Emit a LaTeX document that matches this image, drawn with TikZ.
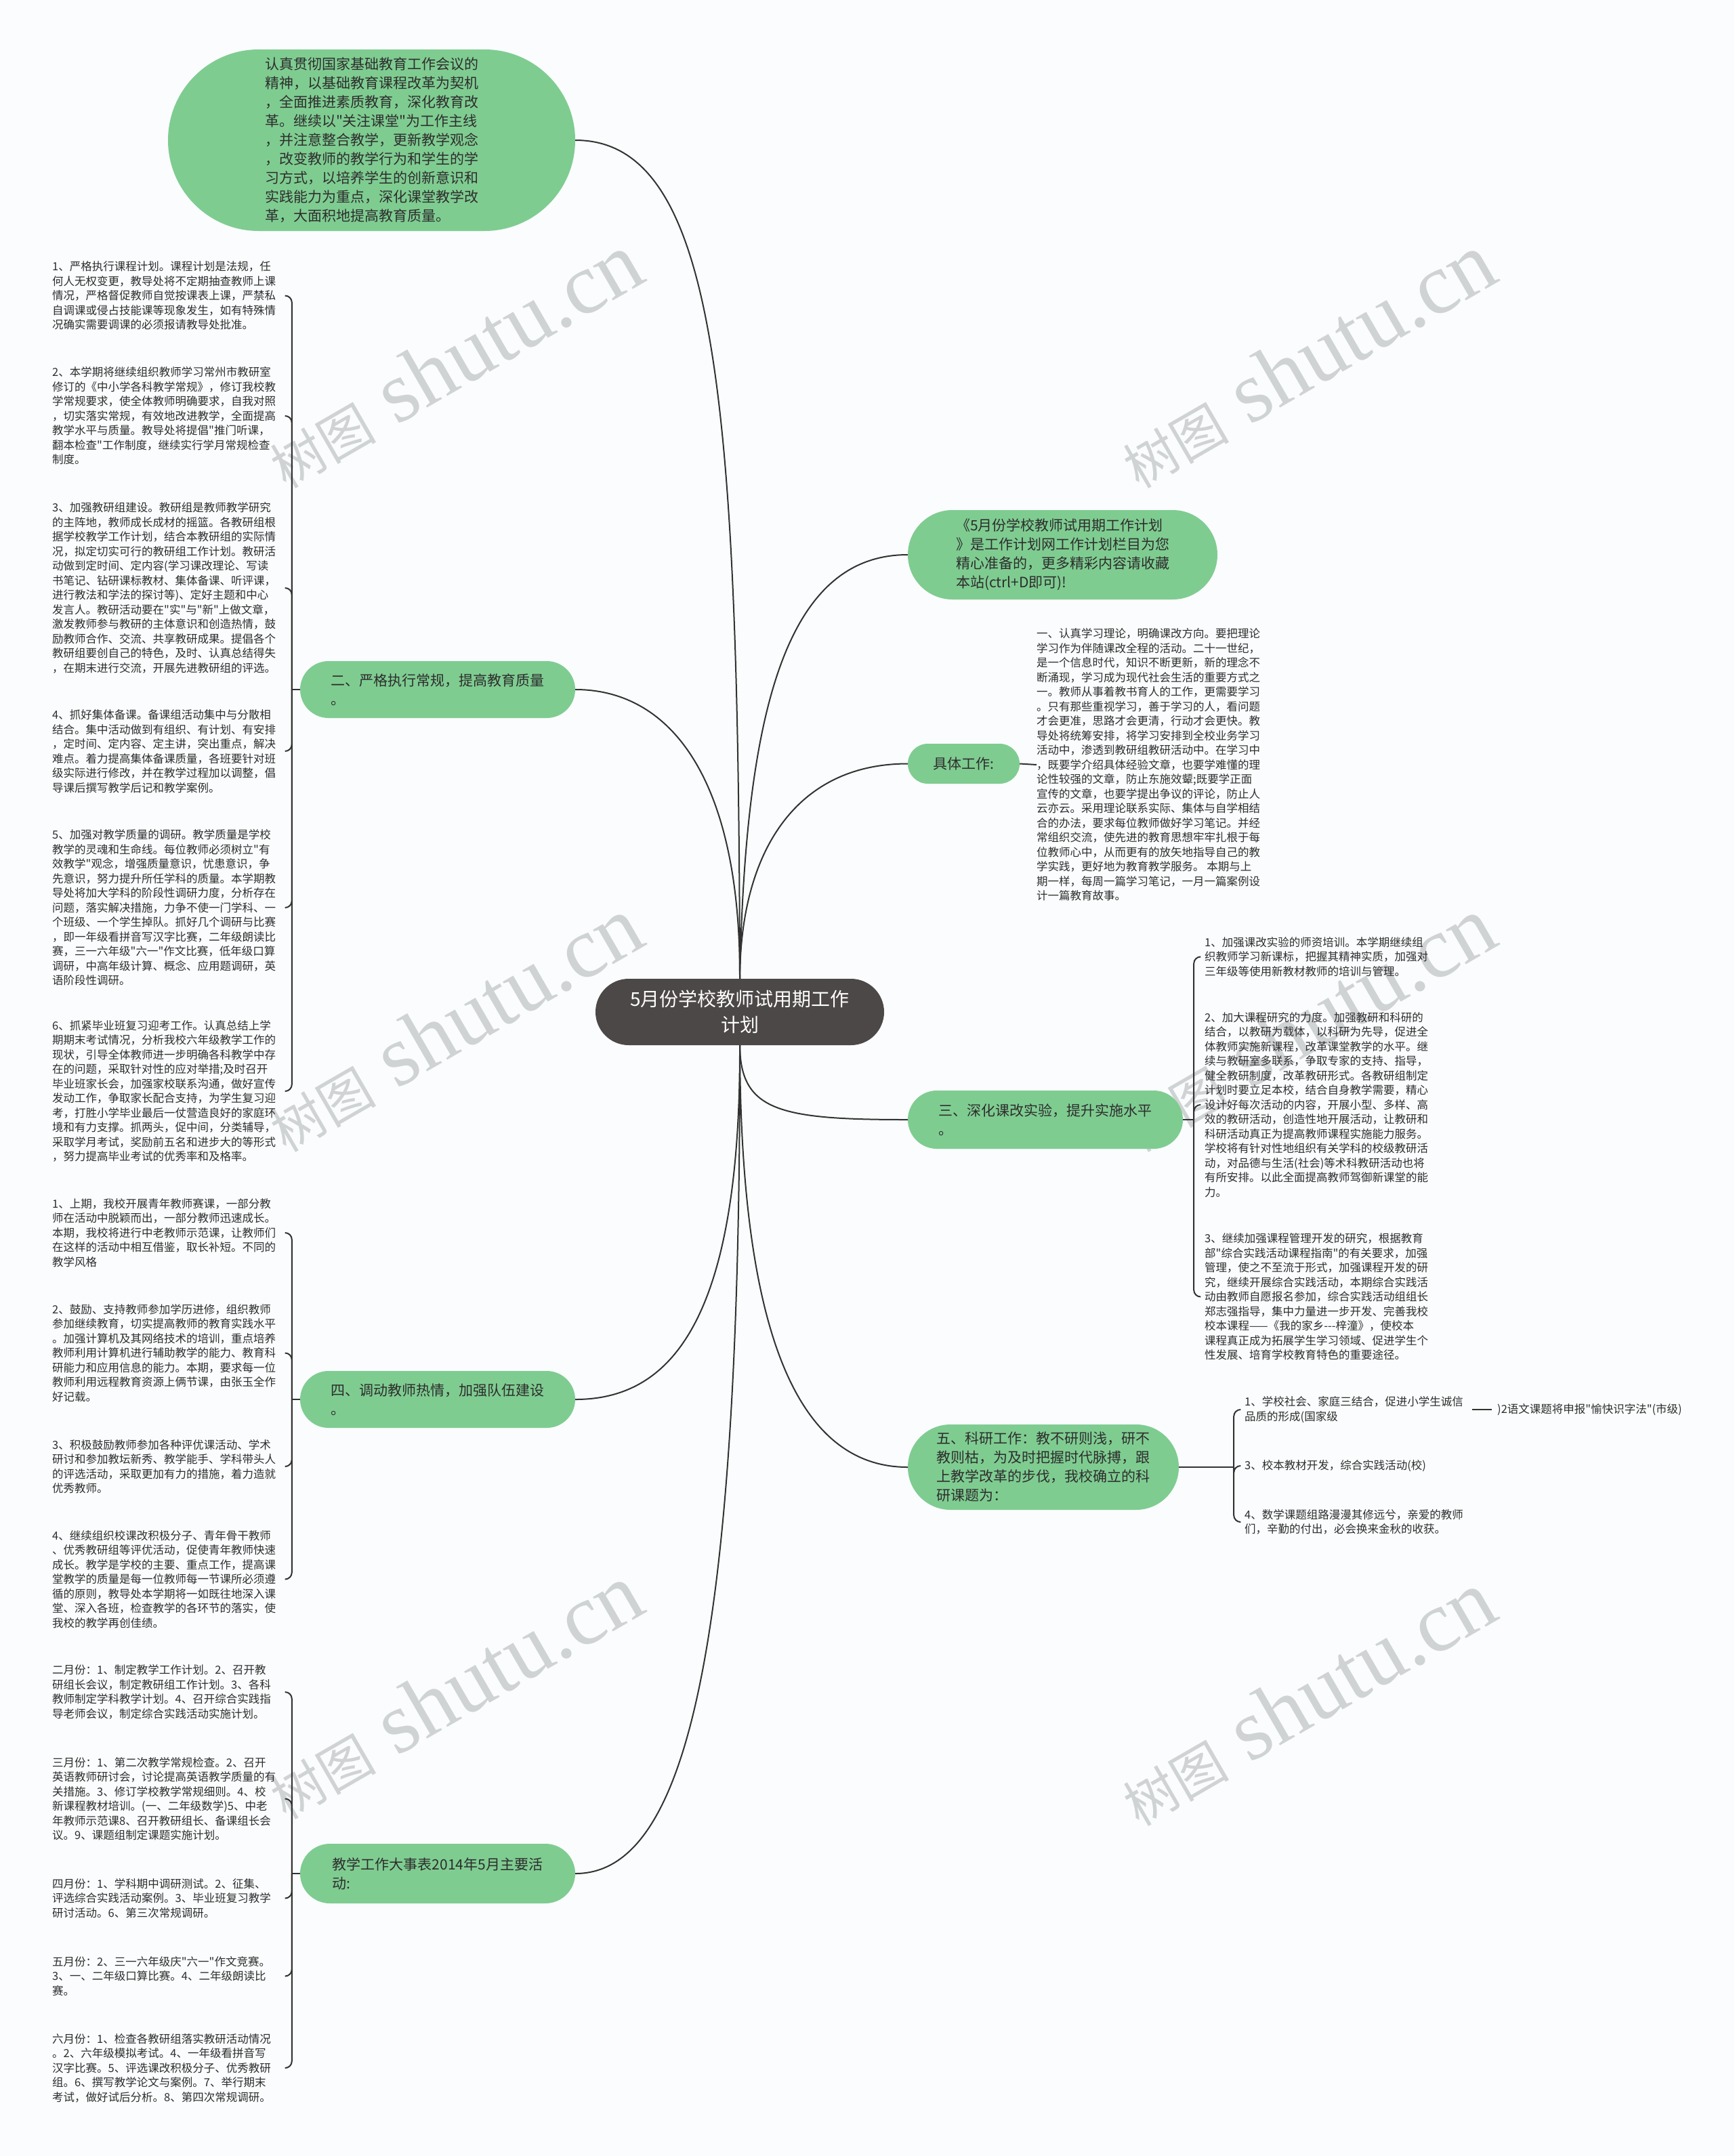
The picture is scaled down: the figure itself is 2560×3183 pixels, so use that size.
\documentclass[tikz,border=0pt]{standalone}
\usepackage{fontspec}
\setmainfont{Noto Sans CJK SC}[Ligatures=TeXOff]
\newfontfamily\wmlat{Liberation Serif}
\newfontfamily\wmcjk{Noto Sans CJK SC}
\usetikzlibrary{shapes.misc}
\definecolor{bg}{RGB}{250,252,253}
\definecolor{gfill}{RGB}{127,204,145}
\definecolor{cfill}{RGB}{76,72,71}
\definecolor{tx}{RGB}{45,45,45}
\definecolor{ln}{RGB}{50,50,50}
\definecolor{wm}{RGB}{208,211,212}
\tikzset{
  gnode/.style={rounded rectangle, fill=gfill, text=tx, align=left, inner sep=0pt, font=\fontsize{21pt}{28pt}\selectfont},
  cnode/.style={rounded rectangle, fill=cfill, text=white, align=center, inner sep=0pt, font=\fontsize{28pt}{38pt}\selectfont},
  leaf/.style={inner sep=0pt, text=tx, align=left, font=\fontsize{16.5pt}{21.5pt}\selectfont},
  leafL/.style={leaf, text width=340pt, anchor=west},
  leafR/.style={leaf, anchor=west},
  conn/.style={draw=ln, line width=2pt},
  brk/.style={draw=ln, line width=2pt, rounded corners=10pt},
  wmark/.style={rotate=30, text=wm, inner sep=0pt}
}
\newcommand\wmtext{{\wmcjk\fontsize{78pt}{78pt}\selectfont 树图}{\wmlat\fontsize{128pt}{128pt}\selectfont\ shutu.cn}}
\begin{document}
\begin{tikzpicture}[x=1pt,y=-1pt]
\fill[bg] (0,0) rectangle (2560,3183);
\useasboundingbox (0,0) rectangle (2560,3183);

% ---- watermarks (behind everything)
\node[wmark] (w1) at (670,532) {\wmtext};
\node[wmark] (w2) at (1929,532) {\wmtext};
\node[wmark] (w3) at (670,1512) {\wmtext};
\node[wmark] (w4) at (1929,1512) {\wmtext};
\node[wmark] (w5) at (670,2497) {\wmtext};
\node[wmark] (w6) at (1929,2507) {\wmtext};

% central node
\node[cnode, minimum width=426pt, minimum height=98pt] (c) at (1092,1494) {5月份学校教师试用期工作\\计划};

% top node
\node[gnode, minimum width=601pt, minimum height=268pt] (top) at (548.5,207) {认真贯彻国家基础教育工作会议的\\精神，以基础教育课程改革为契机\\，全面推进素质教育，深化教育改\\革。继续以"关注课堂"为工作主线\\，并注意整合教学，更新教学观念\\，改变教师的教学行为和学生的学\\习方式，以培养学生的创新意识和\\实践能力为重点，深化课堂教学改\\革，大面积地提高教育质量。};

% left branch nodes
\node[gnode, minimum width=406pt, minimum height=84pt] (n2) at (646,1018) {二、严格执行常规，提高教育质量\\。};
\node[gnode, minimum width=406pt, minimum height=84pt] (n4) at (646,2066) {四、调动教师热情，加强队伍建设\\。};
\node[gnode, minimum width=406pt, minimum height=88pt] (n6) at (646,2766) {教学工作大事表2014年5月主要活\\动:};

% right branch nodes
\node[gnode, minimum width=457pt, minimum height=132pt] (note) at (1568.5,819) {《5月份学校教师试用期工作计划\\》是工作计划网工作计划栏目为您\\精心准备的，更多精彩内容请收藏\\本站(ctrl+D即可)!};
\node[gnode, minimum width=165pt, minimum height=59pt] (jt) at (1422.5,1127.5) {具体工作:};
\node[gnode, minimum width=406pt, minimum height=86pt] (n3) at (1543,1653) {三、深化课改实验，提升实施水平\\。};
\node[gnode, minimum width=400pt, minimum height=126pt] (n5) at (1540,2166) {五、科研工作：教不研则浅，研不\\教则枯，为及时把握时代脉搏，跟\\上教学改革的步伐，我校确立的科\\研课题为：};

% connectors from centre
\draw[conn] (c.north) .. controls (1090,600) and (1060,207) .. (top.east);
\draw[conn] (c.north) .. controls (1100,1050) and (1160,819) .. (note.west);
\draw[conn] (c.north) .. controls (1093,1250) and (1180,1127.5) .. (jt.west);
\draw[conn] (c.south) .. controls (1093,1640) and (1150,1653) .. (n3.west);
\draw[conn] (c.south) .. controls (1093,1950) and (1170,2166) .. (n5.west);
\draw[conn] (c.north) .. controls (1093,1150) and (990,1018) .. (n2.east);
\draw[conn] (c.south) .. controls (1093,1950) and (990,2066) .. (n4.east);
\draw[conn] (c.south) .. controls (1093,2450) and (1010,2766) .. (n6.east);

% ---- left leaves: 二
\node[leafL] (l1) at (77,436.5) {1、严格执行课程计划。课程计划是法规，任\\何人无权变更，教导处将不定期抽查教师上课\\情况，严格督促教师自觉按课表上课，严禁私\\自调课或侵占技能课等现象发生，如有特殊情\\况确实需要调课的必须报请教导处批准。};
\node[leafL] (l2) at (77,614) {2、本学期将继续组织教师学习常州市教研室\\修订的《中小学各科教学常规》，修订我校教\\学常规要求，使全体教师明确要求，自我对照\\，切实落实常规，有效地改进教学，全面提高\\教学水平与质量。教导处将提倡"推门听课，\\翻本检查"工作制度，继续实行学月常规检查\\制度。};
\node[leafL] (l3) at (77,868) {3、加强教研组建设。教研组是教师教学研究\\的主阵地，教师成长成材的摇篮。各教研组根\\据学校教学工作计划，结合本教研组的实际情\\况，拟定切实可行的教研组工作计划。教研活\\动做到定时间、定内容(学习课改理论、写读\\书笔记、钻研课标教材、集体备课、听评课，\\进行教法和学法的探讨等)、定好主题和中心\\发言人。教研活动要在"实"与"新"上做文章，\\激发教师参与教研的主体意识和创造热情，鼓\\励教师合作、交流、共享教研成果。提倡各个\\教研组要创自己的特色，及时、认真总结得失\\，在期末进行交流，开展先进教研组的评选。};
\node[leafL] (l4) at (77,1109) {4、抓好集体备课。备课组活动集中与分散相\\结合。集中活动做到有组织、有计划、有安排\\，定时间、定内容、定主讲，突出重点，解决\\难点。着力提高集体备课质量，各班要针对班\\级实际进行修改，并在教学过程加以调整，倡\\导课后撰写教学后记和教学案例。};
\node[leafL] (l5) at (77,1340) {5、加强对教学质量的调研。教学质量是学校\\教学的灵魂和生命线。每位教师必须树立"有\\效教学"观念，增强质量意识，忧患意识，争\\先意识，努力提升所任学科的质量。本学期教\\导处将加大学科的阶段性调研力度，分析存在\\问题，落实解决措施，力争不使一门学科、一\\个班级、一个学生掉队。抓好几个调研与比赛\\，即一年级看拼音写汉字比赛，二年级朗读比\\赛，三一六年级"六一"作文比赛，低年级口算\\调研，中高年级计算、概念、应用题调研，英\\语阶段性调研。};
\node[leafL] (l6) at (77,1611) {6、抓紧毕业班复习迎考工作。认真总结上学\\期期末考试情况，分析我校六年级教学工作的\\现状，引导全体教师进一步明确各科教学中存\\在的问题，采取针对性的应对举措;及时召开\\毕业班家长会，加强家校联系沟通，做好宣传\\发动工作，争取家长配合支持，为学生复习迎\\考，打胜小学毕业最后一仗营造良好的家庭环\\境和有力支撑。抓两头，促中间，分类辅导，\\采取学月考试，奖励前五名和进步大的等形式\\，努力提高毕业考试的优秀率和及格率。};
\coordinate (j2) at ([xshift=-12pt]n2.west);
\draw[conn] (n2.west) -- (j2);
\foreach \i in {l1,l2,l3,l4,l5,l6} \draw[brk] (j2) |- ([xshift=4pt]\i.east);

% ---- left leaves: 四
\node[leafL] (m1) at (77,1820) {1、上期，我校开展青年教师赛课，一部分教\\师在活动中脱颖而出，一部分教师迅速成长。\\本期，我校将进行中老教师示范课，让教师们\\在这样的活动中相互借鉴，取长补短。不同的\\教学风格};
\node[leafL] (m2) at (77,1997.5) {2、鼓励、支持教师参加学历进修，组织教师\\参加继续教育，切实提高教师的教育实践水平\\。加强计算机及其网络技术的培训，重点培养\\教师利用计算机进行辅助教学的能力、教育科\\研能力和应用信息的能力。本期，要求每一位\\教师利用远程教育资源上俩节课，由张玉全作\\好记载。};
\node[leafL] (m3) at (77,2165) {3、积极鼓励教师参加各种评优课活动、学术\\研讨和参加教坛新秀、教学能手、学科带头人\\的评选活动，采取更加有力的措施，着力造就\\优秀教师。};
\node[leafL] (m4) at (77,2331.5) {4、继续组织校课改积极分子、青年骨干教师\\、优秀教研组等评优活动，促使青年教师快速\\成长。教学是学校的主要、重点工作，提高课\\堂教学的质量是每一位教师每一节课所必须遵\\循的原则，教导处本学期将一如既往地深入课\\堂、深入各班，检查教学的各环节的落实，使\\我校的教学再创佳绩。};
\coordinate (j4) at ([xshift=-12pt]n4.west);
\draw[conn] (n4.west) -- (j4);
\foreach \i in {m1,m2,m3,m4} \draw[brk] (j4) |- ([xshift=4pt]\i.east);

% ---- left leaves: 大事表
\node[leafL] (d1) at (77,2498) {二月份：1、制定教学工作计划。2、召开教\\研组长会议，制定教研组工作计划。3、各科\\教师制定学科教学计划。4、召开综合实践指\\导老师会议，制定综合实践活动实施计划。};
\node[leafL] (d2) at (77,2655.5) {三月份：1、第二次教学常规检查。2、召开\\英语教师研讨会，讨论提高英语教学质量的有\\关措施。3、修订学校教学常规细则。4、校\\新课程教材培训。(一、二年级数学)5、中老\\年教师示范课8、召开教研组长、备课组长会\\议。9、课题组制定课题实施计划。};
\node[leafL] (d3) at (77,2802.5) {四月份：1、学科期中调研测试。2、征集、\\评选综合实践活动案例。3、毕业班复习教学\\研讨活动。6、第三次常规调研。};
\node[leafL] (d4) at (77,2917.5) {五月份：2、三一六年级庆"六一"作文竞赛。\\3、一、二年级口算比赛。4、二年级朗读比\\赛。};
\node[leafL] (d5) at (77,3053) {六月份：1、检查各教研组落实教研活动情况\\。2、六年级模拟考试。4、一年级看拼音写\\汉字比赛。5、评选课改积极分子、优秀教研\\组。6、撰写教学论文与案例。7、举行期末\\考试，做好试后分析。8、第四次常规调研。};
\coordinate (j6) at ([xshift=-12pt]n6.west);
\draw[conn] (n6.west) -- (j6);
\foreach \i in {d1,d2,d3,d4,d5} \draw[brk] (j6) |- ([xshift=4pt]\i.east);

% ---- right: 具体工作 text
\node[leafR] (jtx) at (1530,1129) {一、认真学习理论，明确课改方向。要把理论\\学习作为伴随课改全程的活动。二十一世纪，\\是一个信息时代，知识不断更新，新的理念不\\断涌现，学习成为现代社会生活的重要方式之\\一。教师从事着教书育人的工作，更需要学习\\。只有那些重视学习，善于学习的人，看问题\\才会更准，思路才会更清，行动才会更快。教\\导处将统筹安排，将学习安排到全校业务学习\\活动中，渗透到教研组教研活动中。在学习中\\，既要学介绍具体经验文章，也要学难懂的理\\论性较强的文章，防止东施效颦;既要学正面\\宣传的文章，也要学提出争议的评论，防止人\\云亦云。采用理论联系实际、集体与自学相结\\合的办法，要求每位教师做好学习笔记。并经\\常组织交流，使先进的教育思想牢牢扎根于每\\位教师心中，从而更有的放矢地指导自己的教\\学实践，更好地为教育教学服务。 本期与上\\期一样，每周一篇学习笔记，一月一篇案例设\\计一篇教育故事。};
\draw[conn] (jt.east) -- (jtx.west);

% ---- right: 三
\node[leafR] (r1) at (1778,1412.5) {1、加强课改实验的师资培训。本学期继续组\\织教师学习新课标，把握其精神实质，加强对\\三年级等使用新教材教师的培训与管理。};
\node[leafR] (r2) at (1778,1631) {2、加大课程研究的力度。加强教研和科研的\\结合，以教研为载体，以科研为先导，促进全\\体教师实施新课程，改革课堂教学的水平。继\\续与教研室多联系，争取专家的支持、指导，\\健全教研制度，改革教研形式。各教研组制定\\计划时要立足本校，结合自身教学需要，精心\\设计好每次活动的内容，开展小型、多样、高\\效的教研活动，创造性地开展活动，让教研和\\科研活动真正为提高教师课程实施能力服务。\\学校将有针对性地组织有关学科的校级教研活\\动，对品德与生活(社会)等术科教研活动也将\\有所安排。以此全面提高教师驾御新课堂的能\\力。};
\node[leafR] (r3) at (1778,1914.5) {3、继续加强课程管理开发的研究，根据教育\\部"综合实践活动课程指南"的有关要求，加强\\管理，使之不至流于形式，加强课程开发的研\\究，继续开展综合实践活动，本期综合实践活\\动由教师自愿报名参加，综合实践活动组组长\\郑志强指导，集中力量进一步开发、完善我校\\校本课程——《我的家乡-{}-{}-梓潼》，使校本\\课程真正成为拓展学生学习领域、促进学生个\\性发展、培育学校教育特色的重要途径。};
\coordinate (j3) at ([xshift=16pt]n3.east);
\draw[conn] (n3.east) -- (j3);
\foreach \i in {r1,r2,r3} \draw[brk] (j3) |- ([xshift=-6pt]\i.west);

% ---- right: 五
\node[leafR] (f1) at (1837,2081) {1、学校社会、家庭三结合，促进小学生诚信\\品质的形成(国家级};
\node[leafR] (f3) at (1837,2164) {3、校本教材开发，综合实践活动(校)};
\node[leafR] (f4) at (1837,2247) {4、数学课题组路漫漫其修远兮，亲爱的教师\\们，辛勤的付出，必会换来金秋的收获。};
\node[leafR] (f1c) at (2210,2081) {)2语文课题将申报"愉快识字法"(市级)};
\coordinate (j5) at ([xshift=81pt]n5.east);
\draw[conn] (n5.east) -- (j5);
\foreach \i in {f1,f3,f4} \draw[brk] (j5) |- ([xshift=-6pt]\i.west);
\draw[conn] ([xshift=13pt]f1.east) -- ([xshift=-8pt]f1c.west);
\end{tikzpicture}
\end{document}
